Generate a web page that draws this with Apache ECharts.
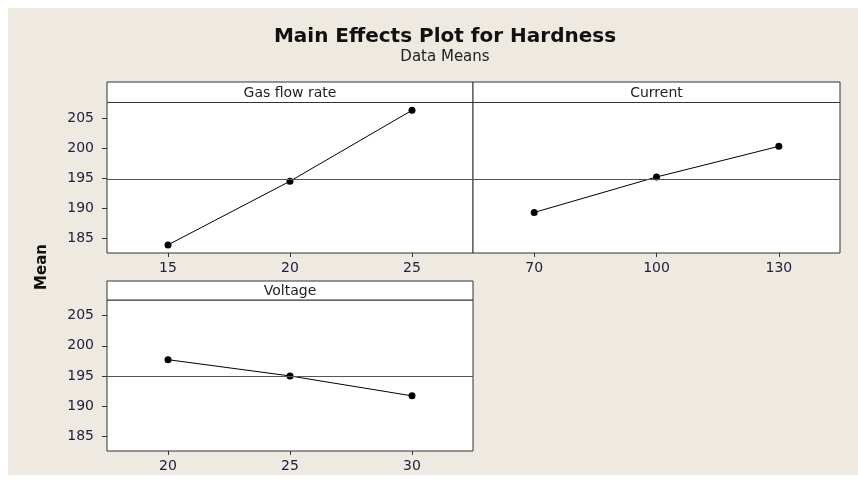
<!DOCTYPE html>
<html>
<head>
<meta charset="utf-8">
<script src="https://cdn.jsdelivr.net/npm/echarts@6/dist/echarts.min.js"></script>
<style>
html,body{margin:0;padding:0;background:#fff;}
#chart{width:858px;height:482px;}
</style>
</head>
<body>
<div id="chart"></div>
<script>
// ---- data ----
const panelTitles = ['Gas flow rate', 'Current', 'Voltage'];
const gasLevels = [15, 20, 25];
const gasMeans = [183.9, 194.5, 206.3];
const currentLevels = [70, 100, 130];
const currentMeans = [189.3, 195.2, 200.3];
const voltageLevels = [20, 25, 30];
const voltageMeans = [197.7, 195.0, 191.7];
const grandMean = 194.9;
const yTicks = [185, 190, 195, 200, 205];
const chartTitle = 'Main Effects Plot for Hardness';
const chartSubtitle = 'Data Means';
const yAxisName = 'Mean';

// ---- layout ----
const FONT = "'DejaVu Sans', sans-serif";
const grids = [
  {left: 107, top: 102.5, width: 366, height: 150.5},
  {left: 473, top: 102.5, width: 367, height: 150.5},
  {left: 107, top: 300, width: 366, height: 151}
];
const headers = [
  {x: 107, y: 82, w: 366, h: 20.5},
  {x: 473, y: 82, w: 367, h: 20.5},
  {x: 107, y: 281, w: 366, h: 19}
];
const xRanges = [[12.5, 27.5], [55, 145], [17.5, 32.5]];
const levels = [gasLevels, currentLevels, voltageLevels];
const means = [gasMeans, currentMeans, voltageMeans];
const labelColor = '#22203f';

const chart = echarts.init(document.getElementById('chart'), null, {renderer: 'canvas'});

const graphics = [
  {type: 'rect', z: -100, shape: {x: 8, y: 8, width: 850, height: 467}, style: {fill: '#eeeae1'}, silent: true},
  {type: 'text', x: 42, y: 267, rotation: Math.PI / 2,
   style: {text: yAxisName, font: "bold 15px " + FONT, fill: '#111', align: 'center', verticalAlign: 'middle'}}
];
headers.forEach((h, i) => {
  graphics.push({type: 'rect', shape: {x: h.x, y: h.y, width: h.w, height: h.h},
    style: {fill: '#fff', stroke: '#333', lineWidth: 1}});
  graphics.push({type: 'text', x: h.x + h.w / 2, y: h.y + h.h / 2 + 1,
    style: {text: panelTitles[i], font: "14px " + FONT, fill: '#222', align: 'center', verticalAlign: 'middle'}});
});

const option = {
  backgroundColor: '#fff',
  animation: false,
  title: {
    text: chartTitle,
    subtext: chartSubtitle,
    left: 440,
    top: 22,
    textAlign: 'center',
    itemGap: 3,
    textStyle: {fontFamily: FONT, fontWeight: 'bold', fontSize: 20, color: '#111'},
    subtextStyle: {fontFamily: FONT, fontSize: 15, color: '#222'}
  },
  graphic: graphics,
  grid: grids.map(g => Object.assign({show: true, backgroundColor: '#fff', borderColor: '#333', borderWidth: 1}, g)),
  xAxis: xRanges.map((r, i) => ({
    type: 'value', gridIndex: i, min: r[0], max: r[1],
    axisLine: {show: false},
    splitLine: {show: false},
    axisTick: {show: true, customValues: levels[i], length: 4, lineStyle: {color: '#333'}},
    axisLabel: {customValues: levels[i], margin: 8, fontFamily: FONT, fontSize: 14, color: labelColor}
  })),
  yAxis: [0, 1, 2].map(i => ({
    type: 'value', gridIndex: i, min: 182.55, max: 207.6,
    axisLine: {show: false},
    splitLine: {show: false},
    axisTick: {show: i !== 1, customValues: yTicks, length: 5, lineStyle: {color: '#333'}},
    axisLabel: {show: i !== 1, customValues: yTicks, margin: 13, fontFamily: FONT, fontSize: 14, color: labelColor}
  })),
  series: [0, 1, 2].map(i => ({
    type: 'line', xAxisIndex: i, yAxisIndex: i,
    data: levels[i].map((x, k) => [x, means[i][k]]),
    symbol: 'circle', symbolSize: 7,
    itemStyle: {color: '#000'},
    lineStyle: {color: '#000', width: 1},
    markLine: {
      silent: true, symbol: 'none', label: {show: false},
      lineStyle: {color: '#555', type: 'solid', width: 1},
      data: [{yAxis: grandMean}]
    }
  }))
};
chart.setOption(option);
</script>
</body>
</html>
